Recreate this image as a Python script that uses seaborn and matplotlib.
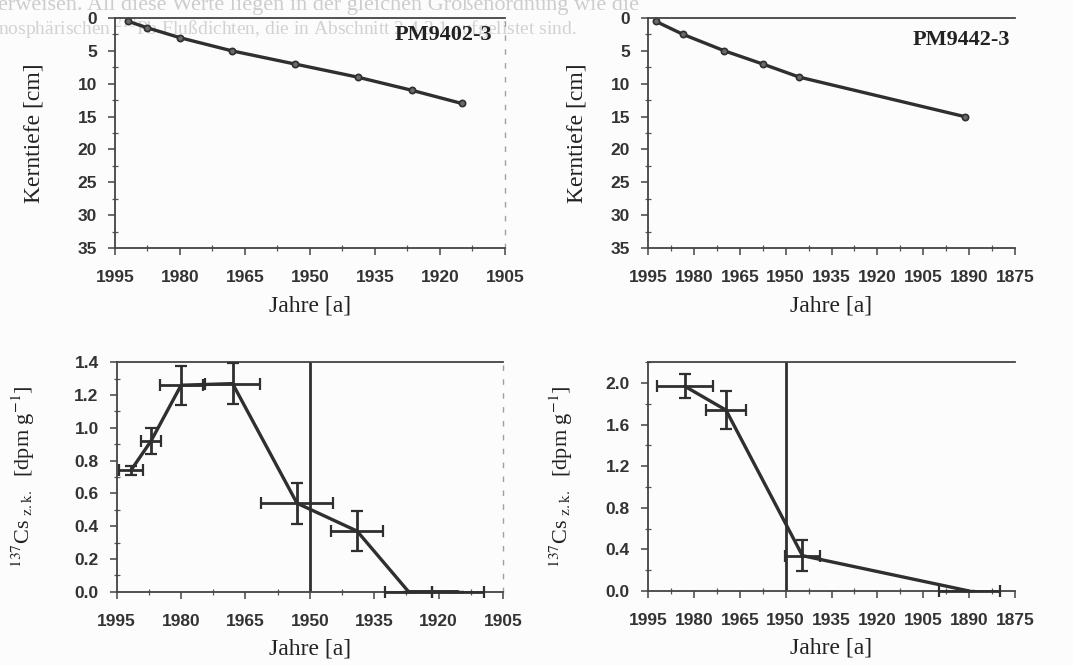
import matplotlib
matplotlib.use("Agg")
import matplotlib.pyplot as plt
from matplotlib.ticker import MultipleLocator, FormatStrFormatter
import pandas as pd
import seaborn as sns

# Age-depth model of the two cores (210Pb dating)
pm9402_years = [1992, 1987.5, 1980, 1968, 1953.5, 1939, 1926.5, 1915]
pm9402_depth = [0.5, 1.5, 3, 5, 7, 9, 11, 13]
pm9442_years = [1992.5, 1983.5, 1970, 1957.5, 1945.5, 1891.5]
pm9442_depth = [0.5, 2.5, 5, 7, 9, 15]

# 137Cs activity (decay corrected) with age and activity uncertainties
cs9402_years = [1991.7, 1987, 1980, 1968, 1953, 1939, 1927, 1915.5]
cs9402_value = [0.74, 0.92, 1.26, 1.27, 0.54, 0.37, 0.0, 0.0]
cs9402_xerr = [2.8, 2.4, 5.0, 6.5, 8.3, 6.1, 5.5, 6.0]
cs9402_yerr = [0.03, 0.08, 0.12, 0.125, 0.125, 0.12, 0.0, 0.0]

cs9442_years = [1983, 1969.5, 1944.5, 1890]
cs9442_value = [1.97, 1.74, 0.34, 0.0]
cs9442_xerr = [9.2, 6.4, 5.7, 10.0]
cs9442_yerr = [0.115, 0.18, 0.15, 0.0]

core_names = ["PM9402-3", "PM9442-3"]
year_ticks_short = [1995, 1980, 1965, 1950, 1935, 1920, 1905]
year_ticks_long = [1995, 1980, 1965, 1950, 1935, 1920, 1905, 1890, 1875]

sns.set_theme(style="ticks")
plt.rcParams["font.family"] = ["Liberation Sans", "DejaVu Sans"]
plt.rcParams["mathtext.fontset"] = "stix"

INK = "#2f2f2f"
SERIF = ["Liberation Serif", "DejaVu Serif"]

W, H = 1073, 665
fig = plt.figure(figsize=(W / 100, H / 100), dpi=100)
fig.patch.set_facecolor("#fcfcfc")


def px_axes(x0, x1, ytop, ybot):
    return fig.add_axes([x0 / W, 1 - ybot / H, (x1 - x0) / W, (ybot - ytop) / H])


# Page text above the figures, printed behind the plots
fig.text(-0.002, 1 - 5 / H, "erweisen. All diese Werte liegen in der gleichen Größenordnung wie die",
         family=SERIF, fontsize=16, color="#cdcdcd", va="center", ha="left", zorder=-5)
fig.text(-0.002, 1 - 28 / H, "nosphärischen $^{210}$Pb Flußdichten, die in Abschnitt 2.4.3.1 aufgelistet sind.",
         family=SERIF, fontsize=14, color="#d2d2d2", va="center", ha="left", zorder=-5)

ax_tl = px_axes(115, 505, 18, 248)
ax_tr = px_axes(648, 1015, 18, 248)
ax_bl = px_axes(116.7, 503, 362.3, 591.7)
ax_br = px_axes(648, 1015, 362.3, 591)


def style_axes(ax, xlim, xticks, right_dashed):
    ax.set_facecolor("none")
    ax.set_xlim(*xlim)
    ax.xaxis.set_minor_locator(MultipleLocator(7.5))
    ax.set_xticks(xticks)
    ax.set_xticklabels([str(t) for t in xticks])
    for s in ["top", "bottom", "left"]:
        ax.spines[s].set_visible(True)
        ax.spines[s].set_color("#444444")
        ax.spines[s].set_linewidth(1.3)
    ax.spines["right"].set_visible(right_dashed)
    if right_dashed:
        ax.spines["right"].set_color("#a0a0a0")
        ax.spines["right"].set_linewidth(1.0)
        ax.spines["right"].set_linestyle((0, (3, 7)))
    ax.tick_params(axis="both", which="major", direction="out", length=5, width=1.1,
                   colors="#444444", labelcolor="#333333", labelsize=12.5)
    ax.tick_params(axis="both", which="minor", direction="inout", length=5, width=0.9,
                   colors="#555555")
    ax.tick_params(axis="x", which="major", pad=11)
    ax.tick_params(axis="y", which="major", pad=8)
    for lab in ax.get_xticklabels() + ax.get_yticklabels():
        lab.set_fontweight("bold")
    ax.set_xlabel("Jahre [a]", family=SERIF, fontsize=17, color="#222222")
    ax.xaxis.set_label_coords(0.5, -0.205)
    ax.grid(False)


# --- Age-depth panels ---
for ax, yrs, dep, name, xlim, xt, dashed, lx, ly, lblx in [
    (ax_tl, pm9402_years, pm9402_depth, core_names[0], (1995, 1905), year_ticks_short, True, 0.967, 0.925, -0.18),
    (ax_tr, pm9442_years, pm9442_depth, core_names[1], (1995, 1875), year_ticks_long, False, 0.986, 0.905, -0.166),
]:
    df = pd.DataFrame({"Jahr": yrs, "Tiefe": dep})
    sns.lineplot(data=df, x="Jahr", y="Tiefe", sort=False, ax=ax, color=INK, linewidth=2.4,
                 marker="o", markersize=4.5, markerfacecolor="#6a6a6a",
                 markeredgecolor=INK, markeredgewidth=1.2, clip_on=False)
    ax.set_ylim(35, 0)
    ax.yaxis.set_major_locator(MultipleLocator(5))
    ax.yaxis.set_minor_locator(MultipleLocator(2.5))
    style_axes(ax, xlim, xt, dashed)
    ax.set_ylabel("Kerntiefe [cm]", family=SERIF, fontsize=17, color="#222222")
    ax.yaxis.set_label_coords(lblx, 0.5)
    ax.text(lx, ly, name, transform=ax.transAxes, ha="right", va="center",
            family=SERIF, fontsize=16, fontweight="bold", color="#222222")

# --- 137Cs panels ---
cs_label = r"$^{137}$Cs$_{\ \mathrm{z.k.}}$  [dpm g$^{-1}$]"
for ax, yrs, val, xe, ye, xlim, xt, dashed, ylim, major, minor, lblx in [
    (ax_bl, cs9402_years, cs9402_value, cs9402_xerr, cs9402_yerr, (1995, 1905),
     year_ticks_short, True, (0, 1.4), 0.2, 0.1, -0.206),
    (ax_br, cs9442_years, cs9442_value, cs9442_xerr, cs9442_yerr, (1995, 1875),
     year_ticks_long, False, (0, 2.2), 0.4, 0.2, -0.2),
]:
    ax.axvline(1950, color=INK, linewidth=2.0, zorder=1)
    df = pd.DataFrame({"Jahr": yrs, "Cs": val})
    sns.lineplot(data=df, x="Jahr", y="Cs", sort=False, ax=ax, color=INK,
                 linewidth=2.4, zorder=3, clip_on=False)
    ax.errorbar(yrs, val, xerr=xe, yerr=ye, fmt="none", ecolor=INK,
                elinewidth=2.0, capsize=4, capthick=1.6, zorder=4, clip_on=False)
    ax.set_ylim(*ylim)
    ax.yaxis.set_major_locator(MultipleLocator(major))
    ax.yaxis.set_minor_locator(MultipleLocator(minor))
    ax.yaxis.set_major_formatter(FormatStrFormatter("%.1f"))
    style_axes(ax, xlim, xt, dashed)
    ax.set_ylabel(cs_label, family=SERIF, fontsize=16, color="#222222")
    ax.yaxis.set_label_coords(lblx, 0.5)
    ax.xaxis.set_label_coords(0.5, -0.205)

fig.savefig("out.png", dpi=100, facecolor=fig.get_facecolor())
